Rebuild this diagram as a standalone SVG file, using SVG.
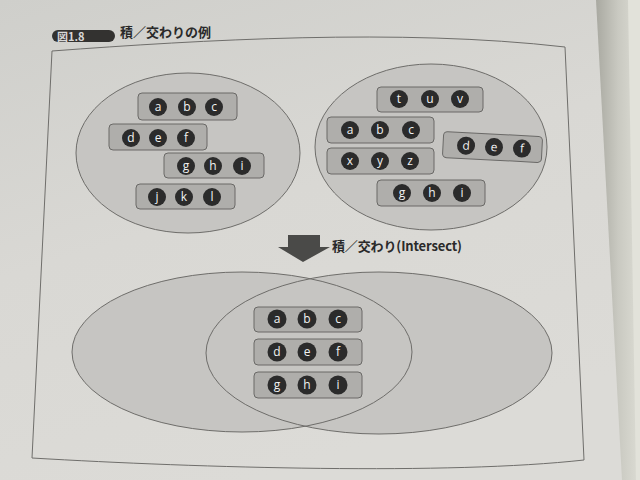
<svg xmlns="http://www.w3.org/2000/svg" width="640" height="480" viewBox="0 0 640 480">
<defs>
<linearGradient id="page" x1="0" y1="0" x2="0.4" y2="1">
<stop offset="0" stop-color="#cfcfcb"/>
<stop offset="0.5" stop-color="#d9d8d4"/>
<stop offset="1" stop-color="#dcdbd7"/>
</linearGradient>
<linearGradient id="edge" x1="0" y1="0" x2="1" y2="0">
<stop offset="0" stop-color="#a9a9a1"/>
<stop offset="0.5" stop-color="#c9c9c1"/>
<stop offset="1" stop-color="#dcdcd4"/>
</linearGradient>
<style>
.ell{fill:#c6c5c2;stroke:#6e6d6a;stroke-width:1}
.ellf{fill:#c6c5c2;stroke:none}
.ells{fill:none;stroke:#6e6d6a;stroke-width:1}
.row{fill:#afaeab;stroke:#6a6967;stroke-width:1}
.dot{fill:#2b2b2b}
.lt{fill:#f2f2f2;font-family:"Open Sans","DejaVu Sans",sans-serif;font-size:12px;text-anchor:middle}
.jp{fill:#2a2a2a;font-family:"Noto Sans CJK JP",sans-serif;font-weight:bold}
</style>
</defs>
<rect x="0" y="0" width="640" height="480" fill="url(#page)"/>
<path d="M596,0 L622,480 L640,480 L640,0 Z" fill="url(#edge)"/>
<path d="M628,0 L640,0 L640,480 L636,480 Z" fill="#e2e2da"/>

<g id="title">
<path d="M58,30 H109 a6,6 0 0 1 0,12 H58 a6,6 0 0 1 0,-12 Z" fill="#333230"/>
<text x="57" y="40.5" font-family="Noto Sans CJK JP,sans-serif" font-size="11" fill="#d8d8d8" font-weight="bold">図1.8</text>
<text class="jp" x="120" y="37" font-size="13">積／交わりの例</text>
</g>

<path id="frame" d="M52,51 C200,40 400,28 565,47 L584,460 C450,475 200,468 32,458 Z" fill="none" stroke="#6f6e6b" stroke-width="1"/>

<g id="setA">
<ellipse class="ell" cx="188" cy="153" rx="112" ry="80"/>
<g id="A-abc"><rect class="row" x="138" y="93" width="99" height="27" rx="4"/>
<circle class="dot" cx="158" cy="107" r="9"/><circle class="dot" cx="187" cy="107" r="9"/><circle class="dot" cx="214" cy="107" r="9"/>
<text class="lt" x="158" y="111">a</text><text class="lt" x="187" y="111">b</text><text class="lt" x="214" y="111">c</text></g>
<g id="A-def"><rect class="row" x="109" y="124" width="98" height="26" rx="4"/>
<circle class="dot" cx="131" cy="138" r="9"/><circle class="dot" cx="158" cy="138" r="9"/><circle class="dot" cx="186" cy="138" r="9"/>
<text class="lt" x="131" y="142">d</text><text class="lt" x="158" y="142">e</text><text class="lt" x="186" y="142">f</text></g>
<g id="A-ghi"><rect class="row" x="164" y="153" width="100" height="25" rx="4"/>
<circle class="dot" cx="186" cy="166" r="9"/><circle class="dot" cx="213" cy="166" r="9"/><circle class="dot" cx="242" cy="166" r="9"/>
<text class="lt" x="186" y="170">g</text><text class="lt" x="213" y="170">h</text><text class="lt" x="242" y="170">i</text></g>
<g id="A-jkl"><rect class="row" x="136" y="184" width="99" height="25" rx="4"/>
<circle class="dot" cx="157" cy="197" r="9"/><circle class="dot" cx="184" cy="197" r="9"/><circle class="dot" cx="212" cy="197" r="9"/>
<text class="lt" x="157" y="201">j</text><text class="lt" x="184" y="201">k</text><text class="lt" x="212" y="201">l</text></g>
</g>

<g id="setB">
<ellipse class="ell" cx="431" cy="147" rx="116" ry="83"/>
<g id="B-tuv"><rect class="row" x="377" y="87" width="106" height="25" rx="4"/>
<circle class="dot" cx="399" cy="99" r="9"/><circle class="dot" cx="430" cy="99" r="9"/><circle class="dot" cx="460" cy="99" r="9"/>
<text class="lt" x="399" y="103">t</text><text class="lt" x="430" y="103">u</text><text class="lt" x="460" y="103">v</text></g>
<g id="B-abc"><rect class="row" x="327" y="117" width="107" height="26" rx="4"/>
<circle class="dot" cx="350" cy="130" r="9"/><circle class="dot" cx="380" cy="130" r="9"/><circle class="dot" cx="411" cy="130" r="9"/>
<text class="lt" x="350" y="134">a</text><text class="lt" x="380" y="134">b</text><text class="lt" x="411" y="134">c</text></g>
<g id="B-def" transform="rotate(3 492 147)"><rect class="row" x="443" y="134" width="99" height="26" rx="4"/>
<circle class="dot" cx="466" cy="147" r="9"/><circle class="dot" cx="494" cy="147" r="9"/><circle class="dot" cx="522" cy="147" r="9"/>
<text class="lt" x="466" y="151">d</text><text class="lt" x="494" y="151">e</text><text class="lt" x="522" y="151">f</text></g>
<g id="B-xyz"><rect class="row" x="327" y="148" width="107" height="26" rx="4"/>
<circle class="dot" cx="350" cy="161" r="9"/><circle class="dot" cx="380" cy="161" r="9"/><circle class="dot" cx="410" cy="161" r="9"/>
<text class="lt" x="350" y="165">x</text><text class="lt" x="380" y="165">y</text><text class="lt" x="410" y="165">z</text></g>
<g id="B-ghi"><rect class="row" x="377" y="180" width="108" height="26" rx="4"/>
<circle class="dot" cx="402" cy="193" r="9"/><circle class="dot" cx="432" cy="193" r="9"/><circle class="dot" cx="462" cy="193" r="9"/>
<text class="lt" x="402" y="197">g</text><text class="lt" x="432" y="197">h</text><text class="lt" x="462" y="197">i</text></g>
</g>

<g id="connectors">
<path d="M288,235 H320 V247 H330 L303,262 L278,247 H288 Z" fill="#4a4a48"/>
<text class="jp" x="332" y="251" font-size="13" textLength="130">積／交わり(Intersect)</text>
</g>

<g id="result">
<ellipse class="ellf" cx="242" cy="352" rx="170" ry="80"/>
<ellipse class="ellf" cx="379" cy="353" rx="173" ry="81"/>
<ellipse class="ells" cx="242" cy="352" rx="170" ry="80"/>
<ellipse class="ells" cx="379" cy="353" rx="173" ry="81"/>
<g id="R-abc"><rect class="row" x="254" y="307" width="108" height="25" rx="4"/>
<circle class="dot" cx="277" cy="319" r="9.5"/><circle class="dot" cx="307" cy="319" r="9.5"/><circle class="dot" cx="338" cy="319" r="9.5"/>
<text class="lt" x="277" y="323">a</text><text class="lt" x="307" y="323">b</text><text class="lt" x="338" y="323">c</text></g>
<g id="R-def"><rect class="row" x="254" y="339" width="108" height="26" rx="4"/>
<circle class="dot" cx="277" cy="352" r="9.5"/><circle class="dot" cx="307" cy="352" r="9.5"/><circle class="dot" cx="338" cy="352" r="9.5"/>
<text class="lt" x="277" y="356">d</text><text class="lt" x="307" y="356">e</text><text class="lt" x="338" y="356">f</text></g>
<g id="R-ghi"><rect class="row" x="254" y="372" width="108" height="26" rx="4"/>
<circle class="dot" cx="277" cy="385" r="9.5"/><circle class="dot" cx="307" cy="385" r="9.5"/><circle class="dot" cx="338" cy="385" r="9.5"/>
<text class="lt" x="277" y="389">g</text><text class="lt" x="307" y="389">h</text><text class="lt" x="338" y="389">i</text></g>
</g>
</svg>
